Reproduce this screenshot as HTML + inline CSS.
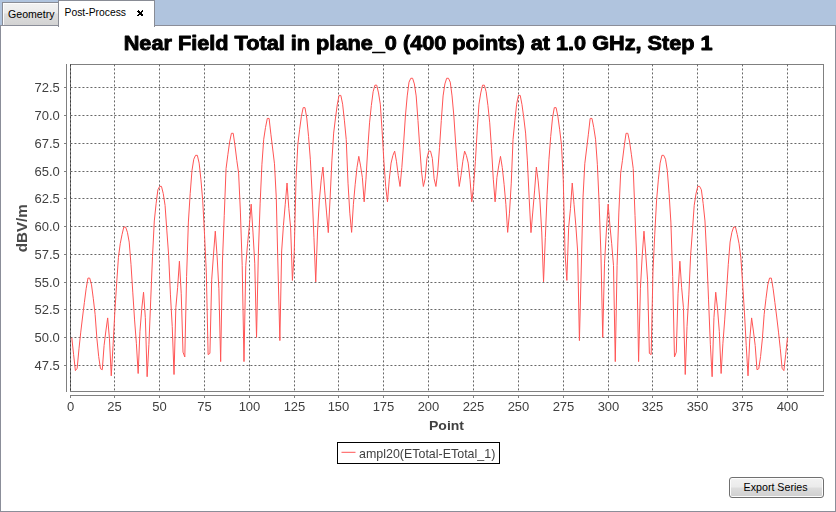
<!DOCTYPE html>
<html><head><meta charset="utf-8"><title>Post-Process</title>
<style>
html,body{margin:0;padding:0;background:#fff;}
body{width:836px;height:512px;overflow:hidden;position:relative;font-family:"Liberation Sans","DejaVu Sans",sans-serif;}
#tabbar{position:absolute;left:0;top:0;width:836px;height:26px;background:#b0c4de;}
#pane{position:absolute;left:0;top:25px;width:834px;height:485px;border:1px solid #8b8e99;background:#fff;}
#tab1{position:absolute;left:2px;top:2px;width:55px;height:22px;border:1px solid #898c95;border-bottom:none;
 background:linear-gradient(#f2f2f2 0,#ebebeb 45%,#dddddd 50%,#d3d3d3 100%);box-shadow:inset 1px 1px 0 #fcfcfc;}
#tab2{position:absolute;left:58px;top:0;width:95px;height:26px;border:1px solid #898c95;border-bottom:none;background:#fff;}
#btn{position:absolute;left:729px;top:477px;width:93px;height:19px;border:1px solid #707070;border-radius:3px;
 background:linear-gradient(#f2f2f2 0,#ebebeb 48%,#dddddd 52%,#cfcfcf 100%);box-shadow:inset 0 0 0 1px #fcfcfc;}
svg{position:absolute;left:0;top:0;}
text{font-family:"Liberation Sans","DejaVu Sans",sans-serif;}
</style></head><body>
<div id="tabbar"></div><div id="pane"></div><div id="tab1"></div><div id="tab2"></div><div id="btn"></div>
<svg width="836" height="512" viewBox="0 0 836 512">

<text x="8" y="18" font-size="11" fill="#000" textLength="46.5" lengthAdjust="spacingAndGlyphs">Geometry</text>
<text x="64.5" y="16" font-size="11" fill="#000" textLength="61.5" lengthAdjust="spacingAndGlyphs">Post-Process</text>
<g fill="#000" shape-rendering="crispEdges"><rect x="138" y="10" width="1" height="1"/><rect x="142" y="10" width="1" height="1"/><rect x="137" y="11" width="1" height="1"/><rect x="138" y="11" width="1" height="1"/><rect x="139" y="11" width="1" height="1"/><rect x="141" y="11" width="1" height="1"/><rect x="142" y="11" width="1" height="1"/><rect x="138" y="12" width="1" height="1"/><rect x="139" y="12" width="1" height="1"/><rect x="140" y="12" width="1" height="1"/><rect x="141" y="12" width="1" height="1"/><rect x="139" y="13" width="1" height="1"/><rect x="140" y="13" width="1" height="1"/><rect x="141" y="13" width="1" height="1"/><rect x="138" y="14" width="1" height="1"/><rect x="139" y="14" width="1" height="1"/><rect x="140" y="14" width="1" height="1"/><rect x="141" y="14" width="1" height="1"/><rect x="142" y="14" width="1" height="1"/><rect x="137" y="15" width="1" height="1"/><rect x="138" y="15" width="1" height="1"/><rect x="141" y="15" width="1" height="1"/><rect x="142" y="15" width="1" height="1"/></g>
<g style="filter:grayscale(1)">
<text x="123.7" y="49.6" font-size="19.7" font-weight="bold" fill="#000" stroke="#000" stroke-width="0.9" stroke-linejoin="round" textLength="589" lengthAdjust="spacingAndGlyphs">Near Field Total in plane_0 (400 points) at 1.0 GHz, Step 1</text>
</g>
<g shape-rendering="crispEdges">
<rect x="70.5" y="64.5" width="753" height="327" fill="#fff" stroke="#808080" stroke-width="1"/>
<line x1="66.5" y1="64" x2="66.5" y2="392" stroke="#808080"/>
<line x1="70" y1="395.5" x2="824" y2="395.5" stroke="#808080"/>
<line x1="70.5" y1="396" x2="70.5" y2="398" stroke="#808080"/>
<line x1="114.5" y1="396" x2="114.5" y2="398" stroke="#808080"/>
<line x1="159.5" y1="396" x2="159.5" y2="398" stroke="#808080"/>
<line x1="204.5" y1="396" x2="204.5" y2="398" stroke="#808080"/>
<line x1="249.5" y1="396" x2="249.5" y2="398" stroke="#808080"/>
<line x1="294.5" y1="396" x2="294.5" y2="398" stroke="#808080"/>
<line x1="338.5" y1="396" x2="338.5" y2="398" stroke="#808080"/>
<line x1="383.5" y1="396" x2="383.5" y2="398" stroke="#808080"/>
<line x1="428.5" y1="396" x2="428.5" y2="398" stroke="#808080"/>
<line x1="473.5" y1="396" x2="473.5" y2="398" stroke="#808080"/>
<line x1="518.5" y1="396" x2="518.5" y2="398" stroke="#808080"/>
<line x1="563.5" y1="396" x2="563.5" y2="398" stroke="#808080"/>
<line x1="608.5" y1="396" x2="608.5" y2="398" stroke="#808080"/>
<line x1="652.5" y1="396" x2="652.5" y2="398" stroke="#808080"/>
<line x1="697.5" y1="396" x2="697.5" y2="398" stroke="#808080"/>
<line x1="742.5" y1="396" x2="742.5" y2="398" stroke="#808080"/>
<line x1="787.5" y1="396" x2="787.5" y2="398" stroke="#808080"/>
<line x1="64" y1="87.5" x2="66" y2="87.5" stroke="#808080"/>
<line x1="64" y1="115.5" x2="66" y2="115.5" stroke="#808080"/>
<line x1="64" y1="143.5" x2="66" y2="143.5" stroke="#808080"/>
<line x1="64" y1="171.5" x2="66" y2="171.5" stroke="#808080"/>
<line x1="64" y1="198.5" x2="66" y2="198.5" stroke="#808080"/>
<line x1="64" y1="226.5" x2="66" y2="226.5" stroke="#808080"/>
<line x1="64" y1="254.5" x2="66" y2="254.5" stroke="#808080"/>
<line x1="64" y1="282.5" x2="66" y2="282.5" stroke="#808080"/>
<line x1="64" y1="309.5" x2="66" y2="309.5" stroke="#808080"/>
<line x1="64" y1="337.5" x2="66" y2="337.5" stroke="#808080"/>
<line x1="64" y1="365.5" x2="66" y2="365.5" stroke="#808080"/>
</g>
<g stroke="#686868" stroke-width="1" stroke-dasharray="2,2" fill="none"><line x1="70.5" y1="64.4" x2="70.5" y2="391.5" stroke="#3c3c3c"/><line x1="114.5" y1="64.4" x2="114.5" y2="391.5"/><line x1="159.5" y1="64.4" x2="159.5" y2="391.5"/><line x1="204.5" y1="64.4" x2="204.5" y2="391.5"/><line x1="249.5" y1="64.4" x2="249.5" y2="391.5"/><line x1="294.5" y1="64.4" x2="294.5" y2="391.5"/><line x1="338.5" y1="64.4" x2="338.5" y2="391.5"/><line x1="383.5" y1="64.4" x2="383.5" y2="391.5"/><line x1="428.5" y1="64.4" x2="428.5" y2="391.5"/><line x1="473.5" y1="64.4" x2="473.5" y2="391.5"/><line x1="518.5" y1="64.4" x2="518.5" y2="391.5"/><line x1="563.5" y1="64.4" x2="563.5" y2="391.5"/><line x1="608.5" y1="64.4" x2="608.5" y2="391.5"/><line x1="652.5" y1="64.4" x2="652.5" y2="391.5"/><line x1="697.5" y1="64.4" x2="697.5" y2="391.5"/><line x1="742.5" y1="64.4" x2="742.5" y2="391.5"/><line x1="787.5" y1="64.4" x2="787.5" y2="391.5"/><line x1="70.44" y1="87.5" x2="823.5" y2="87.5"/><line x1="70.44" y1="115.5" x2="823.5" y2="115.5"/><line x1="70.44" y1="143.5" x2="823.5" y2="143.5"/><line x1="70.44" y1="171.5" x2="823.5" y2="171.5"/><line x1="70.44" y1="198.5" x2="823.5" y2="198.5"/><line x1="70.44" y1="226.5" x2="823.5" y2="226.5"/><line x1="70.44" y1="254.5" x2="823.5" y2="254.5"/><line x1="70.44" y1="282.5" x2="823.5" y2="282.5"/><line x1="70.44" y1="309.5" x2="823.5" y2="309.5"/><line x1="70.44" y1="337.5" x2="823.5" y2="337.5"/><line x1="70.44" y1="365.5" x2="823.5" y2="365.5"/></g>
<g style="filter:grayscale(1)">
<text x="70.5" y="411" font-size="13" fill="#404040" text-anchor="middle">0</text>
<text x="114.5" y="411" font-size="13" fill="#404040" text-anchor="middle">25</text>
<text x="159.5" y="411" font-size="13" fill="#404040" text-anchor="middle">50</text>
<text x="204.5" y="411" font-size="13" fill="#404040" text-anchor="middle">75</text>
<text x="249.5" y="411" font-size="13" fill="#404040" text-anchor="middle">100</text>
<text x="294.5" y="411" font-size="13" fill="#404040" text-anchor="middle">125</text>
<text x="338.5" y="411" font-size="13" fill="#404040" text-anchor="middle">150</text>
<text x="383.5" y="411" font-size="13" fill="#404040" text-anchor="middle">175</text>
<text x="428.5" y="411" font-size="13" fill="#404040" text-anchor="middle">200</text>
<text x="473.5" y="411" font-size="13" fill="#404040" text-anchor="middle">225</text>
<text x="518.5" y="411" font-size="13" fill="#404040" text-anchor="middle">250</text>
<text x="563.5" y="411" font-size="13" fill="#404040" text-anchor="middle">275</text>
<text x="608.5" y="411" font-size="13" fill="#404040" text-anchor="middle">300</text>
<text x="652.5" y="411" font-size="13" fill="#404040" text-anchor="middle">325</text>
<text x="697.5" y="411" font-size="13" fill="#404040" text-anchor="middle">350</text>
<text x="742.5" y="411" font-size="13" fill="#404040" text-anchor="middle">375</text>
<text x="787.5" y="411" font-size="13" fill="#404040" text-anchor="middle">400</text>
<text x="59.8" y="92.05" font-size="13" fill="#404040" text-anchor="end">72.5</text>
<text x="59.8" y="120.05" font-size="13" fill="#404040" text-anchor="end">70.0</text>
<text x="59.8" y="148.05" font-size="13" fill="#404040" text-anchor="end">67.5</text>
<text x="59.8" y="176.05" font-size="13" fill="#404040" text-anchor="end">65.0</text>
<text x="59.8" y="203.05" font-size="13" fill="#404040" text-anchor="end">62.5</text>
<text x="59.8" y="231.05" font-size="13" fill="#404040" text-anchor="end">60.0</text>
<text x="59.8" y="259.05" font-size="13" fill="#404040" text-anchor="end">57.5</text>
<text x="59.8" y="287.05" font-size="13" fill="#404040" text-anchor="end">55.0</text>
<text x="59.8" y="314.05" font-size="13" fill="#404040" text-anchor="end">52.5</text>
<text x="59.8" y="342.05" font-size="13" fill="#404040" text-anchor="end">50.0</text>
<text x="59.8" y="370.05" font-size="13" fill="#404040" text-anchor="end">47.5</text>
<text x="429" y="429.5" font-size="13.5" font-weight="bold" fill="#404040" textLength="35" lengthAdjust="spacingAndGlyphs">Point</text>
<text transform="translate(27,252.3) rotate(-90)" font-size="14.5" font-weight="bold" fill="#4a4a4a" textLength="48" lengthAdjust="spacingAndGlyphs">dBV/m</text>
</g>
<polyline points="71.79,337.70 73.59,354.38 75.38,370.62 77.17,368.28 78.97,348.82 80.76,332.14 82.56,317.02 84.35,302.67 86.14,288.77 87.94,278.10 89.73,278.10 91.52,284.88 93.32,298.78 95.11,314.35 96.91,338.81 98.70,356.60 100.49,368.72 102.29,369.73 104.08,345.48 105.87,331.03 107.67,317.91 109.46,338.81 111.26,375.84 113.05,345.48 114.84,312.12 116.64,283.77 118.43,257.41 120.22,243.74 122.02,234.62 123.81,227.06 125.60,227.06 127.40,232.28 129.19,242.07 130.99,264.31 132.78,292.11 134.57,319.91 136.37,343.26 138.16,373.51 139.95,331.58 141.75,308.79 143.54,292.22 145.34,317.68 147.13,376.73 148.92,344.37 150.72,299.89 152.51,256.52 154.30,220.94 156.10,203.70 157.89,189.80 159.69,186.36 161.48,186.36 163.27,193.70 165.07,205.37 166.86,230.95 168.65,255.41 170.45,294.89 172.24,326.58 174.03,374.51 175.83,307.68 177.62,287.66 179.42,261.19 181.21,293.22 183.00,352.16 184.80,356.94 186.59,276.54 188.38,222.05 190.18,193.70 191.97,170.57 193.77,159.22 195.56,155.33 197.35,155.33 199.15,163.12 200.94,179.80 202.73,200.92 204.53,234.28 206.32,272.09 208.11,354.60 209.91,353.38 211.70,279.88 213.50,254.30 215.29,231.17 217.08,255.97 218.88,288.77 220.67,361.61 222.46,260.97 224.26,215.38 226.05,168.68 227.85,154.78 229.64,141.99 231.43,133.31 233.23,133.31 235.02,145.88 236.81,160.34 238.61,173.12 240.40,212.04 242.20,265.42 243.99,361.61 245.78,265.42 247.58,243.74 249.37,225.39 251.16,204.15 252.96,232.06 254.75,263.20 256.54,337.37 258.34,254.30 260.13,203.15 261.93,164.23 263.72,139.21 265.51,127.53 267.31,118.41 269.10,118.41 270.89,134.20 272.69,148.99 274.48,163.78 276.28,197.59 278.07,270.98 279.86,340.59 281.66,250.96 283.45,225.39 285.24,204.26 287.04,183.02 288.83,208.71 290.63,227.61 292.42,280.43 294.21,253.19 296.01,179.80 297.80,144.77 299.59,129.76 301.39,116.41 303.18,107.63 304.97,107.63 306.77,118.08 308.56,136.43 310.36,159.78 312.15,194.25 313.94,237.62 315.74,281.88 317.53,232.06 319.32,200.92 321.12,180.91 322.91,167.12 324.71,190.92 326.50,212.04 328.29,232.62 330.09,198.70 331.88,160.89 333.67,133.09 335.47,118.08 337.26,104.74 339.06,95.40 340.85,95.40 342.64,104.18 344.44,120.86 346.23,139.43 348.02,183.13 349.82,213.16 351.61,232.39 353.40,204.26 355.20,184.24 356.99,167.56 358.79,156.33 360.58,165.90 362.37,177.57 364.17,201.81 365.96,179.24 367.75,148.66 369.55,122.86 371.34,105.51 373.14,91.73 374.93,85.16 376.72,85.16 378.52,92.95 380.31,104.18 382.10,130.87 383.90,161.45 385.69,186.47 387.48,201.81 389.28,179.24 391.07,163.12 392.87,155.55 394.66,151.11 396.45,161.23 398.25,175.46 400.04,186.47 401.83,167.56 403.63,143.10 405.42,115.97 407.22,95.95 409.01,82.16 410.80,78.27 412.60,78.27 414.39,83.94 416.18,95.95 417.98,120.42 419.77,147.55 421.57,172.01 423.36,186.47 425.15,178.68 426.95,158.33 428.74,151.11 430.53,151.11 432.33,158.33 434.12,178.68 435.91,186.47 437.71,172.01 439.50,147.55 441.30,120.42 443.09,95.95 444.88,83.94 446.68,78.27 448.47,78.27 450.26,82.16 452.06,95.95 453.85,115.97 455.65,143.10 457.44,167.56 459.23,186.47 461.03,175.46 462.82,161.23 464.61,151.11 466.41,155.55 468.20,163.12 470.00,179.24 471.79,201.81 473.58,186.47 475.38,161.45 477.17,130.87 478.96,104.18 480.76,92.95 482.55,85.16 484.34,85.16 486.14,91.73 487.93,105.51 489.73,122.86 491.52,148.66 493.31,179.24 495.11,201.81 496.90,177.57 498.69,165.90 500.49,156.33 502.28,167.56 504.08,184.24 505.87,204.26 507.66,232.39 509.46,213.16 511.25,183.13 513.04,139.43 514.84,120.86 516.63,104.18 518.42,95.40 520.22,95.40 522.01,104.74 523.81,118.08 525.60,133.09 527.39,160.89 529.19,198.70 530.98,232.62 532.77,212.04 534.57,190.92 536.36,167.12 538.16,180.91 539.95,200.92 541.74,232.06 543.54,281.88 545.33,237.62 547.12,194.25 548.92,159.78 550.71,136.43 552.51,118.08 554.30,107.63 556.09,107.63 557.89,116.41 559.68,129.76 561.47,144.77 563.27,179.80 565.06,253.19 566.85,280.43 568.65,227.61 570.44,208.71 572.24,183.02 574.03,204.26 575.82,225.39 577.62,250.96 579.41,340.59 581.20,270.98 583.00,197.59 584.79,163.78 586.59,148.99 588.38,134.20 590.17,118.41 591.97,118.41 593.76,127.53 595.55,139.21 597.35,164.23 599.14,203.15 600.94,254.30 602.73,337.37 604.52,263.20 606.32,232.06 608.11,204.15 609.90,225.39 611.70,243.74 613.49,265.42 615.28,361.61 617.08,265.42 618.87,212.04 620.67,173.12 622.46,160.34 624.25,145.88 626.05,133.31 627.84,133.31 629.63,141.99 631.43,154.78 633.22,168.68 635.02,215.38 636.81,260.97 638.60,361.61 640.40,288.77 642.19,255.97 643.98,231.17 645.78,254.30 647.57,279.88 649.37,353.38 651.16,354.60 652.95,272.09 654.75,234.28 656.54,200.92 658.33,179.80 660.13,163.12 661.92,155.33 663.71,155.33 665.51,159.22 667.30,170.57 669.10,193.70 670.89,222.05 672.68,276.54 674.48,356.94 676.27,352.16 678.06,293.22 679.86,261.19 681.65,287.66 683.45,307.68 685.24,374.51 687.03,326.58 688.83,294.89 690.62,255.41 692.41,230.95 694.21,205.37 696.00,193.70 697.80,186.36 699.59,186.36 701.38,189.80 703.18,203.70 704.97,220.94 706.76,256.52 708.56,299.89 710.35,344.37 712.14,376.73 713.94,317.68 715.73,292.22 717.53,308.79 719.32,331.58 721.11,373.51 722.91,343.26 724.70,319.91 726.49,292.11 728.29,264.31 730.08,242.07 731.88,232.28 733.67,227.06 735.46,227.06 737.26,234.62 739.05,243.74 740.84,257.41 742.64,283.77 744.43,312.12 746.22,345.48 748.02,375.84 749.81,338.81 751.61,317.91 753.40,331.03 755.19,345.48 756.99,369.73 758.78,368.72 760.57,356.60 762.37,338.81 764.16,314.35 765.96,298.78 767.75,284.88 769.54,278.10 771.34,278.10 773.13,288.77 774.92,302.67 776.72,317.02 778.51,332.14 780.31,348.82 782.10,368.28 783.89,370.62 785.69,354.38 787.48,337.70" fill="none" stroke="#ff5555" stroke-width="1" stroke-linejoin="miter" stroke-miterlimit="10"/>
<rect x="337.5" y="442.5" width="162" height="21" fill="#fff" stroke="#000" stroke-width="1" shape-rendering="crispEdges"/>
<line x1="341.5" y1="452.3" x2="355.5" y2="452.3" stroke="#ff5555" stroke-width="1"/>
<g style="filter:grayscale(1)"><text x="359" y="457.8" font-size="13" fill="#404040" textLength="136.3" lengthAdjust="spacingAndGlyphs">ampl20(ETotal-ETotal_1)</text></g>
<text x="743.6" y="491" font-size="11" fill="#000" textLength="64" lengthAdjust="spacingAndGlyphs">Export Series</text>
</svg></body></html>
